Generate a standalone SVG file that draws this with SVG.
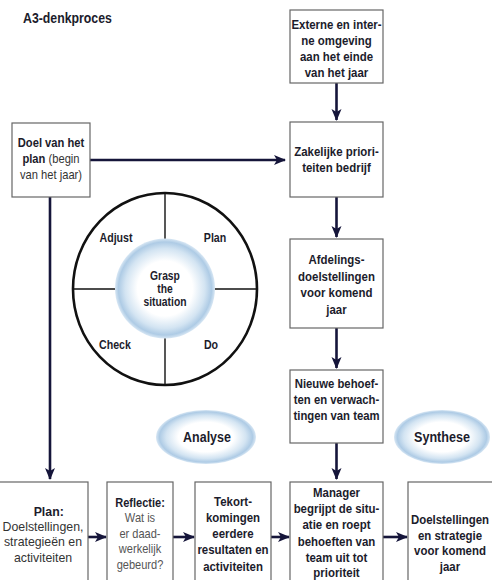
<svg xmlns="http://www.w3.org/2000/svg" width="492" height="580" viewBox="0 0 492 580">
<defs>
<style>
text{font-family:'Liberation Sans',Arial,sans-serif;text-anchor:middle;font-size:13px}
.b{font-weight:bold;fill:#1c1c2c}
.r{font-weight:normal;fill:#333}
.g{font-weight:normal;fill:#555}
.box{fill:#fff;stroke:#666;stroke-width:1.2}
.con{stroke:#15153a;stroke-width:2.6;fill:none}
.wheel{stroke:#111;fill:none}
.w{font-size:12.5px}
</style>
<marker id="ah" markerUnits="userSpaceOnUse" markerWidth="12" markerHeight="12" viewBox="0 0 12 12" refX="11" refY="6" orient="auto">
<path d="M0,1 L12,6 L0,11 L3,6 Z" fill="#15153a"/>
</marker>
<radialGradient id="soft" cx="0.5" cy="0.5" r="0.5">
<stop offset="0" stop-color="#fff"/>
<stop offset="0.55" stop-color="#fff"/>
<stop offset="0.8" stop-color="#d3e4f2"/>
<stop offset="0.93" stop-color="#aecbe5"/>
<stop offset="1" stop-color="#d8e7f4"/>
</radialGradient>
</defs>
<rect width="492" height="580" fill="#fff"/>
<g transform="translate(23,23) scale(0.88,1)">
<text class="b" x="0" y="0" style="text-anchor:start;font-size:14px">A3-denkproces</text>
</g>

<g id="connectors">
<line class="con" x1="336.5" y1="83" x2="336.5" y2="120" marker-end="url(#ah)"/>
<line class="con" x1="90" y1="160" x2="285" y2="160" marker-end="url(#ah)"/>
<line class="con" x1="336.5" y1="197" x2="336.5" y2="237" marker-end="url(#ah)"/>
<line class="con" x1="336.5" y1="328" x2="336.5" y2="368" marker-end="url(#ah)"/>
<line class="con" x1="50" y1="197" x2="50" y2="479" marker-end="url(#ah)"/>
<line class="con" x1="336.5" y1="443" x2="336.5" y2="479" marker-end="url(#ah)"/>
<line class="con" x1="88" y1="537" x2="106" y2="537" marker-end="url(#ah)"/>
<line class="con" x1="173" y1="537" x2="194" y2="537" marker-end="url(#ah)"/>
<line class="con" x1="271" y1="537" x2="289" y2="537" marker-end="url(#ah)"/>
<line class="con" x1="383" y1="537" x2="407" y2="537" marker-end="url(#ah)"/>
</g>

<g id="externe">
<rect class="box" x="290" y="10" width="93" height="73"/>
<g transform="translate(336.5,0) scale(0.88,1)">
<text class="b" x="0" y="29">Externe en inter-</text>
<text class="b" x="0" y="45">ne omgeving</text>
<text class="b" x="0" y="61">aan het einde</text>
<text class="b" x="0" y="77">van het jaar</text>
</g>
</g>

<g id="zakelijke">
<rect class="box" x="290" y="122" width="93" height="75"/>
<g transform="translate(336.5,0) scale(0.88,1)">
<text class="b" x="0" y="156">Zakelijke priori-</text>
<text class="b" x="0" y="172">teiten bedrijf</text>
</g>
</g>

<g id="doel">
<rect class="box" x="12" y="123" width="78" height="74"/>
<g transform="translate(51,0) scale(0.86,1)">
<text class="b" x="0" y="147">Doel van het</text>
<text x="0" y="163"><tspan class="b">plan</tspan><tspan class="r"> (begin</tspan></text>
<text class="r" x="0" y="179">van het jaar)</text>
</g>
</g>

<g id="afdelings">
<rect class="box" x="290" y="239" width="93" height="89"/>
<g transform="translate(336.5,0) scale(0.88,1)">
<text class="b" x="0" y="264">Afdelings-</text>
<text class="b" x="0" y="281">doelstellingen</text>
<text class="b" x="0" y="297">voor komend</text>
<text class="b" x="0" y="314">jaar</text>
</g>
</g>

<g id="nieuwe">
<rect class="box" x="290" y="370" width="93" height="73"/>
<g transform="translate(336.5,0) scale(0.87,1)">
<text class="b" x="0" y="388">Nieuwe behoef-</text>
<text class="b" x="0" y="404">ten en verwach-</text>
<text class="b" x="0" y="420">tingen van team</text>
</g>
</g>

<g id="wheel">
<ellipse class="wheel" cx="165" cy="289" rx="92" ry="96" stroke-width="2.6"/>
<line class="wheel" x1="165" y1="193" x2="165" y2="385" stroke-width="1.4"/>
<line class="wheel" x1="73" y1="289" x2="257" y2="289" stroke-width="1.4"/>
<circle cx="165" cy="288.5" r="50" fill="url(#soft)"/>
<g transform="translate(116,242) scale(0.85,1)"><text class="b w" x="0" y="0">Adjust</text></g>
<g transform="translate(215,242) scale(0.85,1)"><text class="b w" x="0" y="0">Plan</text></g>
<g transform="translate(115,349) scale(0.85,1)"><text class="b w" x="0" y="0">Check</text></g>
<g transform="translate(211,349) scale(0.85,1)"><text class="b w" x="0" y="0">Do</text></g>
<g transform="translate(165,0) scale(0.86,1)">
<text class="b" x="0" y="280" style="font-size:12px">Grasp</text>
<text class="b" x="0" y="293" style="font-size:12px">the</text>
<text class="b" x="0" y="306" style="font-size:12px">situation</text>
</g>
</g>

<g id="analyse">
<ellipse cx="206" cy="437" rx="50" ry="27" fill="url(#soft)"/>
<g transform="translate(207,442) scale(0.89,1)"><text class="b" x="0" y="0" style="font-size:14px">Analyse</text></g>
</g>

<g id="synthese">
<ellipse cx="442" cy="437" rx="48" ry="27" fill="url(#soft)"/>
<g transform="translate(442,442) scale(0.9,1)"><text class="b" x="0" y="0" style="font-size:14px">Synthese</text></g>
</g>

<g id="plan">
<rect class="box" x="-2" y="482" width="90" height="110"/>
<g transform="translate(43,0) scale(0.95,1)">
<text class="b" x="6" y="516">Plan:</text>
<text class="r" x="0" y="531">Doelstellingen,</text>
<text class="r" x="0" y="546">strategieën en</text>
<text class="r" x="0" y="562">activiteiten</text>
</g>
</g>

<g id="reflectie">
<rect class="box" x="107" y="482" width="66" height="110"/>
<g transform="translate(140,0) scale(0.85,1)">
<text class="b" x="0" y="507">Reflectie:</text>
<text class="g" x="0" y="522">Wat is</text>
<text class="g" x="0" y="538">er daad-</text>
<text class="g" x="0" y="553">werkelijk</text>
<text class="g" x="0" y="569">gebeurd?</text>
</g>
</g>

<g id="tekort">
<rect class="box" x="195" y="482" width="76" height="110"/>
<g transform="translate(233,0) scale(0.88,1)">
<text class="b" x="0" y="506">Tekort-</text>
<text class="b" x="0" y="522">komingen</text>
<text class="b" x="0" y="538">eerdere</text>
<text class="b" x="0" y="554">resultaten en</text>
<text class="b" x="0" y="571">activiteiten</text>
</g>
</g>

<g id="manager">
<rect class="box" x="290" y="482" width="93" height="110"/>
<g transform="translate(336.5,0) scale(0.88,1)">
<text class="b" x="0" y="497">Manager</text>
<text class="b" x="0" y="513">begrijpt de situ-</text>
<text class="b" x="0" y="529">atie en roept</text>
<text class="b" x="0" y="546">behoeften van</text>
<text class="b" x="0" y="562">team uit tot</text>
<text class="b" x="0" y="577">prioriteit</text>
</g>
</g>

<g id="doelstellingen">
<rect class="box" x="408" y="482" width="90" height="110"/>
<g transform="translate(450,0) scale(0.88,1)">
<text class="b" x="0" y="524">Doelstellingen</text>
<text class="b" x="0" y="540">en strategie</text>
<text class="b" x="0" y="555">voor komend</text>
<text class="b" x="0" y="571">jaar</text>
</g>
</g>
</svg>
